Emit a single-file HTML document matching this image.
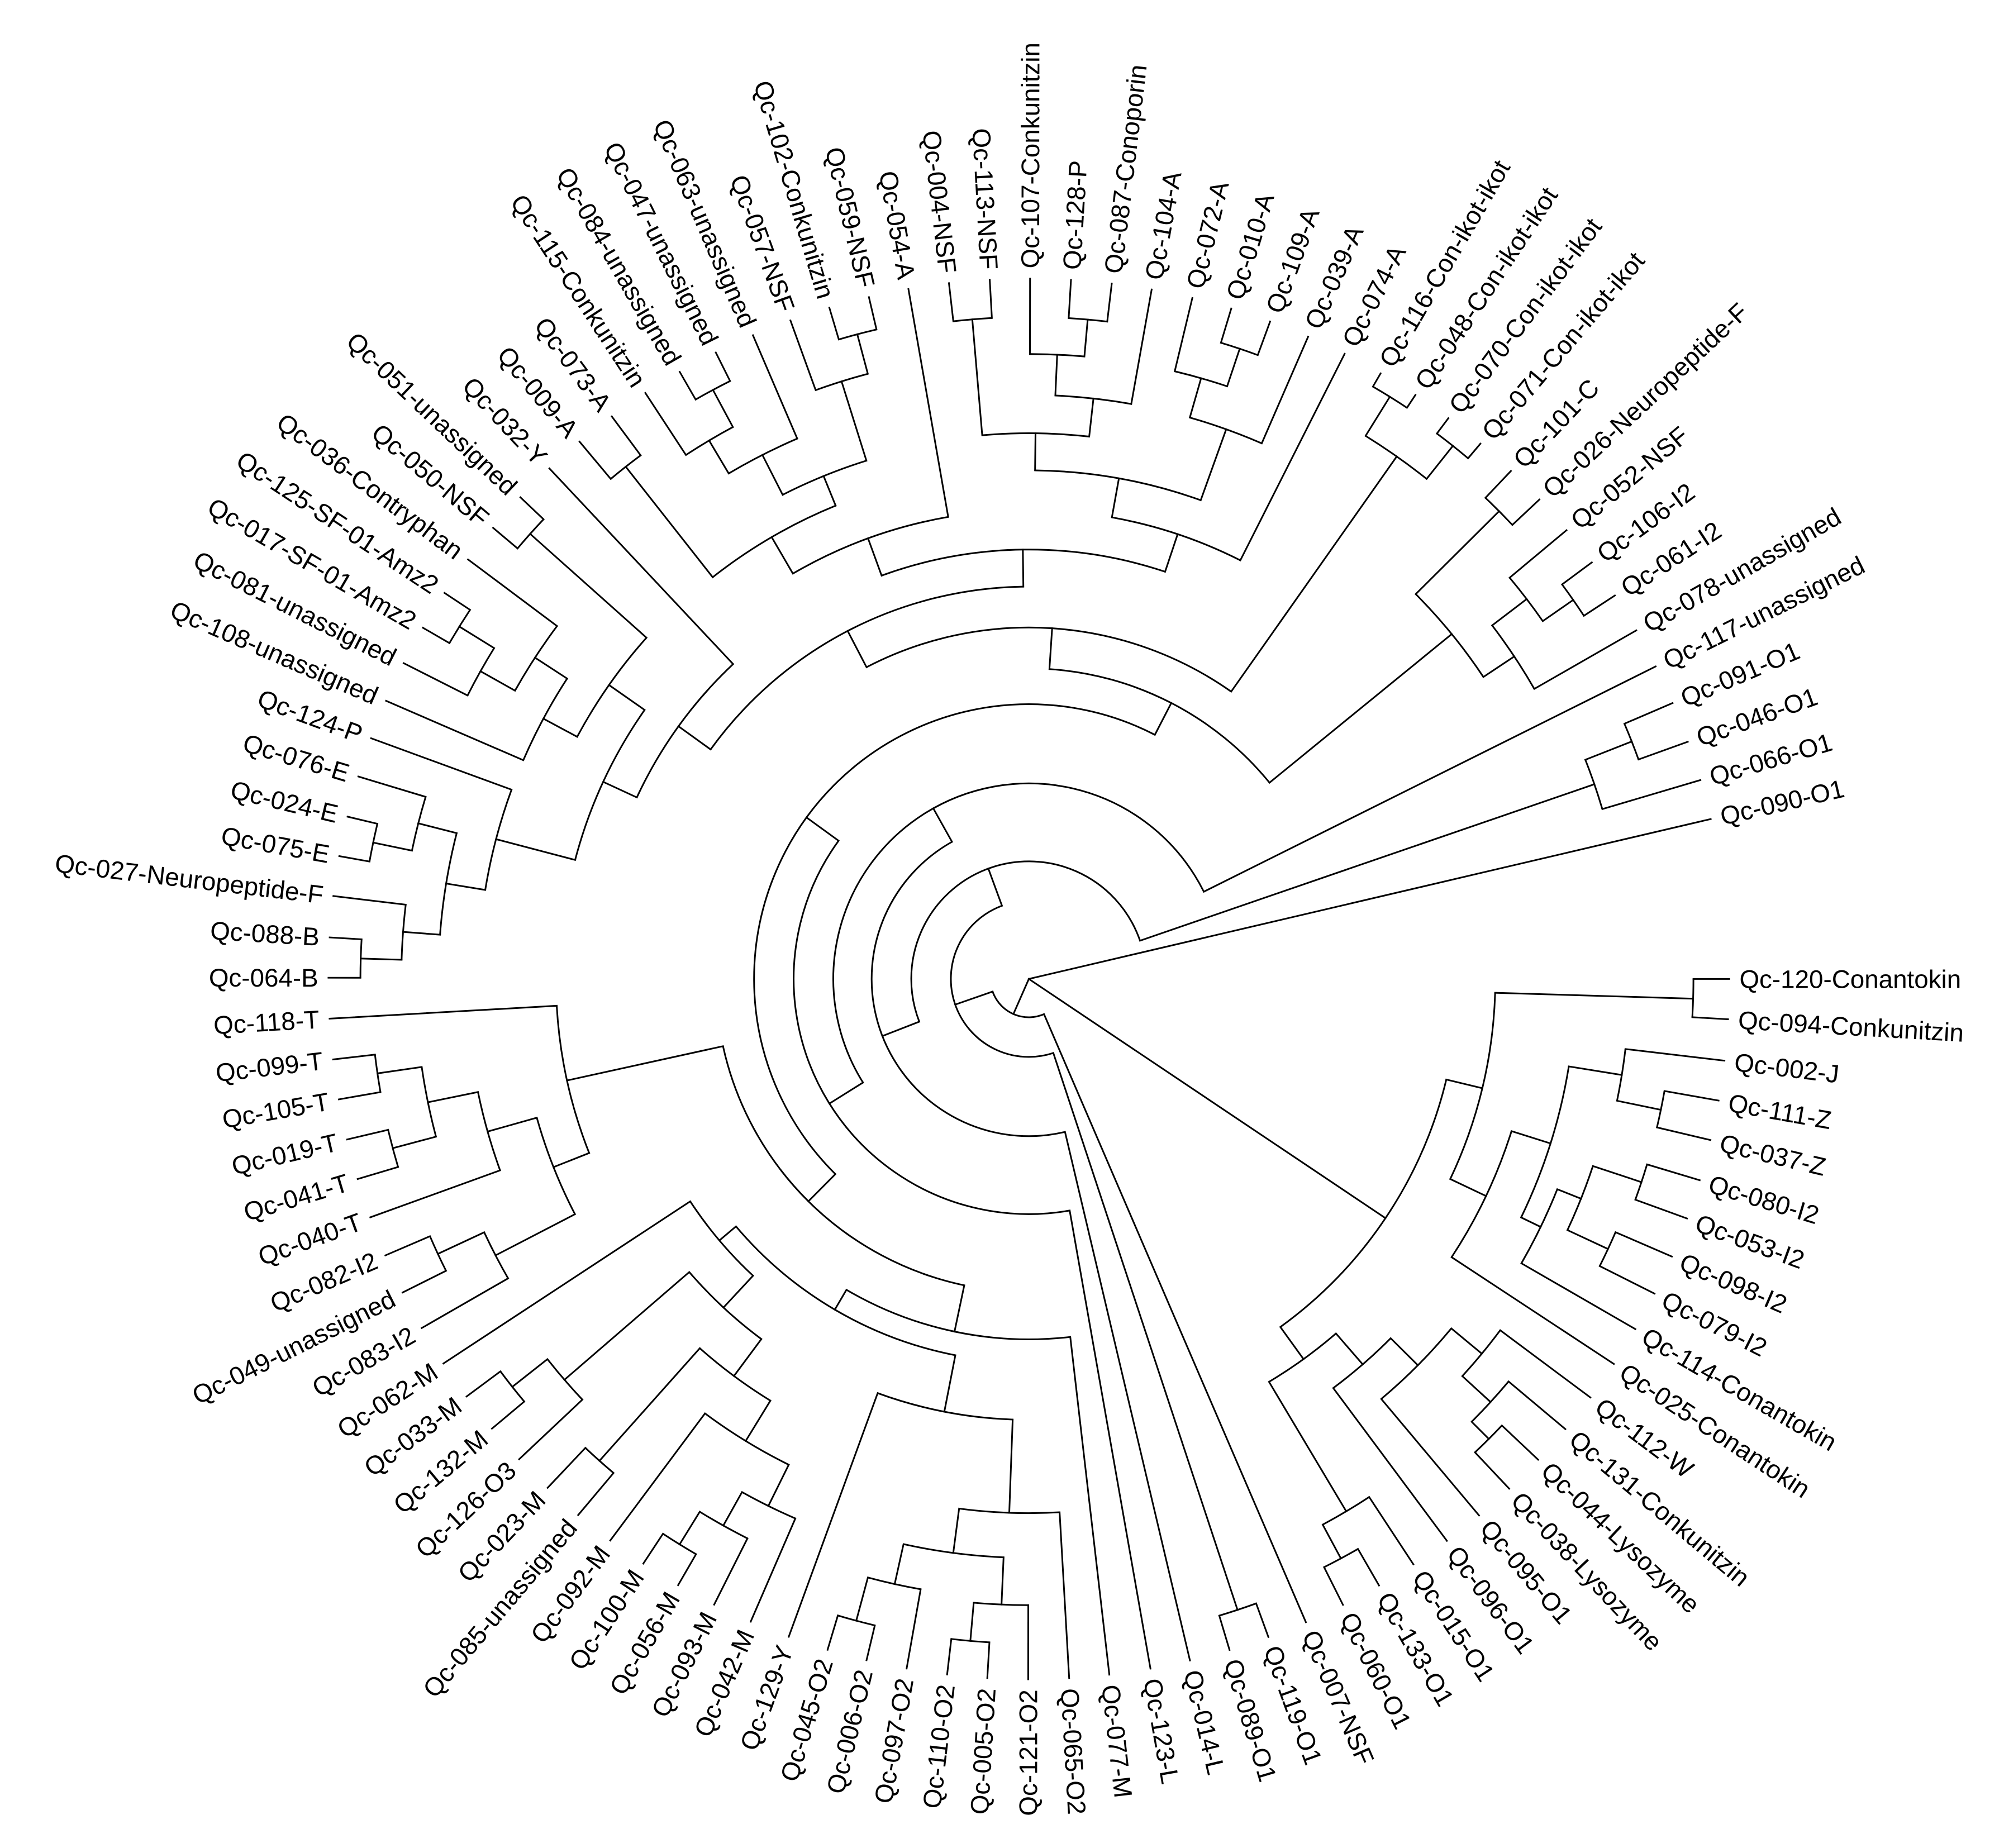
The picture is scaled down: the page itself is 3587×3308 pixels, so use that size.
<!DOCTYPE html>
<html><head><meta charset="utf-8"><style>
html,body{margin:0;padding:0;background:#fff}
svg{display:block}
.t text{font-family:"Liberation Sans",Arial,sans-serif;font-size:20px;fill:#000;stroke:none}
.f text{text-anchor:end}
</style></head><body>
<svg xmlns="http://www.w3.org/2000/svg" width="3587" height="3308" viewBox="0 0 1568 1446">
<rect width="1568" height="1446" fill="#fff"/>
<g transform="translate(805 766)">
<g fill="none" stroke="#000" stroke-width="1.3" stroke-linecap="square">
<!-- internal radial lines -->
<line x1="0" x2="336" transform="rotate(33.85)"/>
<line x1="336" x2="365" transform="rotate(13.55)"/>
<line x1="365" x2="520" transform="rotate(1.7)"/>
<line x1="365" x2="396" transform="rotate(25.4)"/>
<line x1="396" x2="428" transform="rotate(17.5)"/>
<line x1="428" x2="470" transform="rotate(9.2)"/>
<line x1="470" x2="505" transform="rotate(11.7)"/>
<line x1="428" x2="445" transform="rotate(25.85)"/>
<line x1="445" x2="465" transform="rotate(21.7)"/>
<line x1="465" x2="505" transform="rotate(18.35)"/>
<line x1="465" x2="500" transform="rotate(25)"/>
<line x1="336" x2="367" transform="rotate(54.15)"/>
<line x1="367" x2="399" transform="rotate(49.1)"/>
<line x1="399" x2="429" transform="rotate(44.8)"/>
<line x1="429" x2="460" transform="rotate(39.6)"/>
<line x1="460" x2="490" transform="rotate(42.5)"/>
<line x1="490" x2="509" transform="rotate(45)"/>
<line x1="367" x2="485" transform="rotate(59.2)"/>
<line x1="485" x2="515" transform="rotate(61.7)"/>
<line x1="0" x2="30" transform="rotate(113.75)"/>
<line x1="30" x2="61" transform="rotate(160.8)"/>
<line x1="61" x2="520" transform="rotate(71.7)"/>
<line x1="61" x2="92" transform="rotate(249.85)"/>
<line x1="92" x2="468" transform="rotate(341)"/>
<line x1="468" x2="507" transform="rotate(338.5)"/>
<line x1="92" x2="123" transform="rotate(158.7)"/>
<line x1="123" x2="153" transform="rotate(240.75)"/>
<line x1="153" x2="184" transform="rotate(148)"/>
<line x1="184" x2="215" transform="rotate(216)"/>
<line x1="215" x2="245" transform="rotate(134.75)"/>
<line x1="245" x2="282" transform="rotate(101.9)"/>
<line x1="282" x2="300" transform="rotate(120.4)"/>
<line x1="300" x2="345" transform="rotate(101.05)"/>
<line x1="345" x2="418" transform="rotate(92.1)"/>
<line x1="418" x2="453" transform="rotate(97.5)"/>
<line x1="453" x2="490" transform="rotate(92.5)"/>
<line x1="490" x2="520" transform="rotate(95.05)"/>
<line x1="453" x2="485" transform="rotate(102.5)"/>
<line x1="485" x2="520" transform="rotate(105.05)"/>
<line x1="300" x2="317" transform="rotate(139.8)"/>
<line x1="317" x2="351" transform="rotate(132.9)"/>
<line x1="351" x2="387" transform="rotate(126.6)"/>
<line x1="387" x2="424" transform="rotate(121.5)"/>
<line x1="424" x2="460" transform="rotate(116.3)"/>
<line x1="460" x2="490" transform="rotate(119.2)"/>
<line x1="490" x2="520" transform="rotate(121.7)"/>
<line x1="387" x2="505" transform="rotate(131.7)"/>
<line x1="351" x2="480" transform="rotate(139.2)"/>
<line x1="480" x2="515" transform="rotate(141.7)"/>
<line x1="245" x2="370" transform="rotate(167.6)"/>
<line x1="370" x2="400" transform="rotate(158.4)"/>
<line x1="400" x2="470" transform="rotate(152.6)"/>
<line x1="470" x2="510" transform="rotate(155.05)"/>
<line x1="400" x2="440" transform="rotate(164.25)"/>
<line x1="440" x2="480" transform="rotate(168.4)"/>
<line x1="480" x2="515" transform="rotate(165.1)"/>
<line x1="480" x2="515" transform="rotate(171.75)"/>
<line x1="215" x2="243" transform="rotate(297.3)"/>
<line x1="243" x2="275" transform="rotate(273.8)"/>
<line x1="275" x2="307" transform="rotate(242.5)"/>
<line x1="307" x2="338" transform="rotate(215.8)"/>
<line x1="338" x2="367" transform="rotate(204.85)"/>
<line x1="367" x2="431" transform="rotate(194.7)"/>
<line x1="431" x2="462" transform="rotate(189.3)"/>
<line x1="462" x2="491" transform="rotate(184.3)"/>
<line x1="491" x2="523" transform="rotate(181.75)"/>
<line x1="462" x2="493" transform="rotate(194.3)"/>
<line x1="493" x2="524" transform="rotate(191.75)"/>
<line x1="367" x2="401" transform="rotate(215)"/>
<line x1="401" x2="431" transform="rotate(208.2)"/>
<line x1="431" x2="461" transform="rotate(213.05)"/>
<line x1="461" x2="492" transform="rotate(209.3)"/>
<line x1="492" x2="524" transform="rotate(211.75)"/>
<line x1="401" x2="523" transform="rotate(221.75)"/>
<line x1="307" x2="336" transform="rotate(269.2)"/>
<line x1="336" x2="367" transform="rotate(249.95)"/>
<line x1="367" x2="400" transform="rotate(239.8)"/>
<line x1="400" x2="510" transform="rotate(231.8)"/>
<line x1="400" x2="425" transform="rotate(247.8)"/>
<line x1="425" x2="460" transform="rotate(243.05)"/>
<line x1="460" x2="490" transform="rotate(239.3)"/>
<line x1="490" x2="523" transform="rotate(241.8)"/>
<line x1="425" x2="490" transform="rotate(252.6)"/>
<line x1="490" x2="522" transform="rotate(255.1)"/>
<line x1="336" x2="367" transform="rotate(288.5)"/>
<line x1="367" x2="398" transform="rotate(280.2)"/>
<line x1="398" x2="427" transform="rotate(270.7)"/>
<line x1="427" x2="518" transform="rotate(265.1)"/>
<line x1="427" x2="457" transform="rotate(276.35)"/>
<line x1="457" x2="489" transform="rotate(272.6)"/>
<line x1="489" x2="518" transform="rotate(275.1)"/>
<line x1="398" x2="457" transform="rotate(289.75)"/>
<line x1="457" x2="489" transform="rotate(286)"/>
<line x1="489" x2="520" transform="rotate(288.5)"/>
<line x1="275" x2="500" transform="rotate(305.15)"/>
<line x1="500" x2="536" transform="rotate(301.8)"/>
<line x1="500" x2="533" transform="rotate(308.5)"/>
<line x1="243" x2="427" transform="rotate(320.8)"/>
<line x1="427" x2="519" transform="rotate(315.15)"/>
<line x1="427" x2="456" transform="rotate(326.4)"/>
<line x1="456" x2="490" transform="rotate(322.65)"/>
<line x1="490" x2="519" transform="rotate(325.15)"/>
<!-- leaf lines -->
<line x1="520" x2="548" transform="rotate(0)"/>
<line x1="520" x2="548" transform="rotate(3.3)"/>
<line x1="470" x2="548" transform="rotate(6.7)"/>
<line x1="505" x2="548" transform="rotate(10)"/>
<line x1="505" x2="548" transform="rotate(13.3)"/>
<line x1="505" x2="548" transform="rotate(16.7)"/>
<line x1="505" x2="548" transform="rotate(20)"/>
<line x1="500" x2="548" transform="rotate(23.35)"/>
<line x1="500" x2="548" transform="rotate(26.7)"/>
<line x1="445" x2="548" transform="rotate(30)"/>
<line x1="396" x2="548" transform="rotate(33.35)"/>
<line x1="460" x2="548" transform="rotate(36.7)"/>
<line x1="490" x2="548" transform="rotate(40)"/>
<line x1="509" x2="548" transform="rotate(43.35)"/>
<line x1="509" x2="548" transform="rotate(46.7)"/>
<line x1="429" x2="548" transform="rotate(50)"/>
<line x1="399" x2="548" transform="rotate(53.35)"/>
<line x1="485" x2="548" transform="rotate(56.7)"/>
<line x1="515" x2="548" transform="rotate(60)"/>
<line x1="515" x2="548" transform="rotate(63.35)"/>
<line x1="30" x2="548" transform="rotate(66.7)"/>
<line x1="520" x2="548" transform="rotate(70)"/>
<line x1="520" x2="548" transform="rotate(73.35)"/>
<line x1="123" x2="548" transform="rotate(76.7)"/>
<line x1="184" x2="548" transform="rotate(80)"/>
<line x1="282" x2="548" transform="rotate(83.4)"/>
<line x1="418" x2="548" transform="rotate(86.7)"/>
<line x1="490" x2="548" transform="rotate(90.05)"/>
<line x1="520" x2="548" transform="rotate(93.4)"/>
<line x1="520" x2="548" transform="rotate(96.7)"/>
<line x1="485" x2="548" transform="rotate(100.05)"/>
<line x1="520" x2="548" transform="rotate(103.4)"/>
<line x1="520" x2="548" transform="rotate(106.7)"/>
<line x1="345" x2="548" transform="rotate(110.05)"/>
<line x1="460" x2="548" transform="rotate(113.4)"/>
<line x1="490" x2="548" transform="rotate(116.7)"/>
<line x1="520" x2="548" transform="rotate(120.05)"/>
<line x1="520" x2="548" transform="rotate(123.4)"/>
<line x1="424" x2="548" transform="rotate(126.7)"/>
<line x1="505" x2="548" transform="rotate(130.05)"/>
<line x1="505" x2="548" transform="rotate(133.4)"/>
<line x1="480" x2="548" transform="rotate(136.7)"/>
<line x1="515" x2="548" transform="rotate(140.05)"/>
<line x1="515" x2="548" transform="rotate(143.4)"/>
<line x1="317" x2="548" transform="rotate(146.7)"/>
<line x1="470" x2="548" transform="rotate(150.1)"/>
<line x1="510" x2="548" transform="rotate(153.4)"/>
<line x1="510" x2="548" transform="rotate(156.75)"/>
<line x1="440" x2="548" transform="rotate(160.1)"/>
<line x1="515" x2="548" transform="rotate(163.4)"/>
<line x1="515" x2="548" transform="rotate(166.75)"/>
<line x1="515" x2="548" transform="rotate(170.1)"/>
<line x1="515" x2="548" transform="rotate(173.4)"/>
<line x1="370" x2="548" transform="rotate(176.75)"/>
<line x1="523" x2="548" transform="rotate(180.1)"/>
<line x1="523" x2="548" transform="rotate(183.4)"/>
<line x1="491" x2="548" transform="rotate(186.8)"/>
<line x1="524" x2="548" transform="rotate(190.1)"/>
<line x1="524" x2="548" transform="rotate(193.4)"/>
<line x1="493" x2="548" transform="rotate(196.8)"/>
<line x1="431" x2="548" transform="rotate(200.1)"/>
<line x1="431" x2="548" transform="rotate(203.4)"/>
<line x1="492" x2="548" transform="rotate(206.8)"/>
<line x1="524" x2="548" transform="rotate(210.1)"/>
<line x1="524" x2="548" transform="rotate(213.45)"/>
<line x1="461" x2="548" transform="rotate(216.8)"/>
<line x1="523" x2="548" transform="rotate(220.1)"/>
<line x1="523" x2="548" transform="rotate(223.45)"/>
<line x1="338" x2="548" transform="rotate(226.8)"/>
<line x1="510" x2="548" transform="rotate(230.1)"/>
<line x1="510" x2="548" transform="rotate(233.45)"/>
<line x1="490" x2="548" transform="rotate(236.8)"/>
<line x1="523" x2="548" transform="rotate(240.1)"/>
<line x1="523" x2="548" transform="rotate(243.45)"/>
<line x1="460" x2="548" transform="rotate(246.8)"/>
<line x1="490" x2="548" transform="rotate(250.1)"/>
<line x1="522" x2="548" transform="rotate(253.45)"/>
<line x1="522" x2="548" transform="rotate(256.8)"/>
<line x1="367" x2="548" transform="rotate(260.1)"/>
<line x1="518" x2="548" transform="rotate(263.45)"/>
<line x1="518" x2="548" transform="rotate(266.8)"/>
<line x1="489" x2="548" transform="rotate(270.1)"/>
<line x1="518" x2="548" transform="rotate(273.45)"/>
<line x1="518" x2="548" transform="rotate(276.8)"/>
<line x1="457" x2="548" transform="rotate(280.1)"/>
<line x1="489" x2="548" transform="rotate(283.5)"/>
<line x1="520" x2="548" transform="rotate(286.8)"/>
<line x1="520" x2="548" transform="rotate(290.15)"/>
<line x1="457" x2="548" transform="rotate(293.5)"/>
<line x1="367" x2="548" transform="rotate(296.8)"/>
<line x1="536" x2="548" transform="rotate(300.15)"/>
<line x1="536" x2="548" transform="rotate(303.5)"/>
<line x1="533" x2="548" transform="rotate(306.8)"/>
<line x1="533" x2="548" transform="rotate(310.15)"/>
<line x1="519" x2="548" transform="rotate(313.5)"/>
<line x1="519" x2="548" transform="rotate(316.8)"/>
<line x1="490" x2="548" transform="rotate(320.15)"/>
<line x1="519" x2="548" transform="rotate(323.5)"/>
<line x1="519" x2="548" transform="rotate(326.8)"/>
<line x1="456" x2="548" transform="rotate(330.15)"/>
<line x1="153" x2="548" transform="rotate(333.5)"/>
<line x1="507" x2="548" transform="rotate(336.8)"/>
<line x1="507" x2="548" transform="rotate(340.2)"/>
<line x1="468" x2="548" transform="rotate(343.5)"/>
<line x1="0" x2="548" transform="rotate(346.8)"/>
</g>
<g fill="none" stroke="#000" stroke-width="1.3">
<!-- arcs -->
<circle r="336" pathLength="360" stroke-dasharray="40.6 999" transform="rotate(13.55)"/>
<circle r="365" pathLength="360" stroke-dasharray="23.7 999" transform="rotate(1.7)"/>
<circle r="520" pathLength="360" stroke-dasharray="3.3 999" transform="rotate(0)"/>
<circle r="396" pathLength="360" stroke-dasharray="15.85 999" transform="rotate(17.5)"/>
<circle r="428" pathLength="360" stroke-dasharray="16.65 999" transform="rotate(9.2)"/>
<circle r="470" pathLength="360" stroke-dasharray="5 999" transform="rotate(6.7)"/>
<circle r="505" pathLength="360" stroke-dasharray="3.3 999" transform="rotate(10)"/>
<circle r="445" pathLength="360" stroke-dasharray="8.3 999" transform="rotate(21.7)"/>
<circle r="465" pathLength="360" stroke-dasharray="6.65 999" transform="rotate(18.35)"/>
<circle r="505" pathLength="360" stroke-dasharray="3.3 999" transform="rotate(16.7)"/>
<circle r="500" pathLength="360" stroke-dasharray="3.35 999" transform="rotate(23.35)"/>
<circle r="367" pathLength="360" stroke-dasharray="10.1 999" transform="rotate(49.1)"/>
<circle r="399" pathLength="360" stroke-dasharray="8.55 999" transform="rotate(44.8)"/>
<circle r="429" pathLength="360" stroke-dasharray="10.4 999" transform="rotate(39.6)"/>
<circle r="460" pathLength="360" stroke-dasharray="5.8 999" transform="rotate(36.7)"/>
<circle r="490" pathLength="360" stroke-dasharray="5 999" transform="rotate(40)"/>
<circle r="509" pathLength="360" stroke-dasharray="3.35 999" transform="rotate(43.35)"/>
<circle r="485" pathLength="360" stroke-dasharray="5 999" transform="rotate(56.7)"/>
<circle r="515" pathLength="360" stroke-dasharray="3.35 999" transform="rotate(60)"/>
<circle r="30" pathLength="360" stroke-dasharray="94.1 999" transform="rotate(66.7)"/>
<circle r="61" pathLength="360" stroke-dasharray="178.15 999" transform="rotate(71.7)"/>
<circle r="520" pathLength="360" stroke-dasharray="3.35 999" transform="rotate(70)"/>
<circle r="92" pathLength="360" stroke-dasharray="182.3 999" transform="rotate(158.7)"/>
<circle r="468" pathLength="360" stroke-dasharray="5 999" transform="rotate(338.5)"/>
<circle r="507" pathLength="360" stroke-dasharray="3.4 999" transform="rotate(336.8)"/>
<circle r="123" pathLength="360" stroke-dasharray="164.05 999" transform="rotate(76.7)"/>
<circle r="153" pathLength="360" stroke-dasharray="185.5 999" transform="rotate(148)"/>
<circle r="184" pathLength="360" stroke-dasharray="136 999" transform="rotate(80)"/>
<circle r="215" pathLength="360" stroke-dasharray="162.55 999" transform="rotate(134.75)"/>
<circle r="245" pathLength="360" stroke-dasharray="65.7 999" transform="rotate(101.9)"/>
<circle r="282" pathLength="360" stroke-dasharray="37 999" transform="rotate(83.4)"/>
<circle r="300" pathLength="360" stroke-dasharray="38.75 999" transform="rotate(101.05)"/>
<circle r="345" pathLength="360" stroke-dasharray="17.95 999" transform="rotate(92.1)"/>
<circle r="418" pathLength="360" stroke-dasharray="10.8 999" transform="rotate(86.7)"/>
<circle r="453" pathLength="360" stroke-dasharray="10 999" transform="rotate(92.5)"/>
<circle r="490" pathLength="360" stroke-dasharray="5.05 999" transform="rotate(90)"/>
<circle r="520" pathLength="360" stroke-dasharray="3.3 999" transform="rotate(93.4)"/>
<circle r="485" pathLength="360" stroke-dasharray="5.05 999" transform="rotate(100)"/>
<circle r="520" pathLength="360" stroke-dasharray="3.3 999" transform="rotate(103.4)"/>
<circle r="317" pathLength="360" stroke-dasharray="13.8 999" transform="rotate(132.9)"/>
<circle r="351" pathLength="360" stroke-dasharray="12.6 999" transform="rotate(126.6)"/>
<circle r="387" pathLength="360" stroke-dasharray="10.2 999" transform="rotate(121.5)"/>
<circle r="424" pathLength="360" stroke-dasharray="10.4 999" transform="rotate(116.3)"/>
<circle r="460" pathLength="360" stroke-dasharray="5.8 999" transform="rotate(113.4)"/>
<circle r="490" pathLength="360" stroke-dasharray="5 999" transform="rotate(116.7)"/>
<circle r="520" pathLength="360" stroke-dasharray="3.35 999" transform="rotate(120.05)"/>
<circle r="505" pathLength="360" stroke-dasharray="3.35 999" transform="rotate(130.05)"/>
<circle r="480" pathLength="360" stroke-dasharray="5 999" transform="rotate(136.7)"/>
<circle r="515" pathLength="360" stroke-dasharray="3.35 999" transform="rotate(140.05)"/>
<circle r="370" pathLength="360" stroke-dasharray="18.35 999" transform="rotate(158.4)"/>
<circle r="400" pathLength="360" stroke-dasharray="11.65 999" transform="rotate(152.6)"/>
<circle r="470" pathLength="360" stroke-dasharray="4.95 999" transform="rotate(150.1)"/>
<circle r="510" pathLength="360" stroke-dasharray="3.35 999" transform="rotate(153.4)"/>
<circle r="440" pathLength="360" stroke-dasharray="8.3 999" transform="rotate(160.1)"/>
<circle r="480" pathLength="360" stroke-dasharray="6.65 999" transform="rotate(165.1)"/>
<circle r="515" pathLength="360" stroke-dasharray="3.35 999" transform="rotate(163.4)"/>
<circle r="515" pathLength="360" stroke-dasharray="3.3 999" transform="rotate(170.1)"/>
<circle r="243" pathLength="360" stroke-dasharray="47 999" transform="rotate(273.8)"/>
<circle r="275" pathLength="360" stroke-dasharray="62.65 999" transform="rotate(242.5)"/>
<circle r="307" pathLength="360" stroke-dasharray="53.4 999" transform="rotate(215.8)"/>
<circle r="338" pathLength="360" stroke-dasharray="21.95 999" transform="rotate(204.85)"/>
<circle r="367" pathLength="360" stroke-dasharray="20.3 999" transform="rotate(194.7)"/>
<circle r="431" pathLength="360" stroke-dasharray="10.8 999" transform="rotate(189.3)"/>
<circle r="462" pathLength="360" stroke-dasharray="10 999" transform="rotate(184.3)"/>
<circle r="491" pathLength="360" stroke-dasharray="5.05 999" transform="rotate(181.75)"/>
<circle r="523" pathLength="360" stroke-dasharray="3.3 999" transform="rotate(180.1)"/>
<circle r="493" pathLength="360" stroke-dasharray="5.05 999" transform="rotate(191.75)"/>
<circle r="524" pathLength="360" stroke-dasharray="3.3 999" transform="rotate(190.1)"/>
<circle r="401" pathLength="360" stroke-dasharray="13.55 999" transform="rotate(208.2)"/>
<circle r="431" pathLength="360" stroke-dasharray="9.65 999" transform="rotate(203.4)"/>
<circle r="461" pathLength="360" stroke-dasharray="7.5 999" transform="rotate(209.3)"/>
<circle r="492" pathLength="360" stroke-dasharray="4.95 999" transform="rotate(206.8)"/>
<circle r="524" pathLength="360" stroke-dasharray="3.35 999" transform="rotate(210.1)"/>
<circle r="523" pathLength="360" stroke-dasharray="3.35 999" transform="rotate(220.1)"/>
<circle r="336" pathLength="360" stroke-dasharray="38.55 999" transform="rotate(249.95)"/>
<circle r="367" pathLength="360" stroke-dasharray="20.3 999" transform="rotate(239.8)"/>
<circle r="400" pathLength="360" stroke-dasharray="16 999" transform="rotate(231.8)"/>
<circle r="510" pathLength="360" stroke-dasharray="3.35 999" transform="rotate(230.1)"/>
<circle r="425" pathLength="360" stroke-dasharray="9.55 999" transform="rotate(243.05)"/>
<circle r="460" pathLength="360" stroke-dasharray="7.5 999" transform="rotate(239.3)"/>
<circle r="490" pathLength="360" stroke-dasharray="5 999" transform="rotate(236.8)"/>
<circle r="523" pathLength="360" stroke-dasharray="3.35 999" transform="rotate(240.1)"/>
<circle r="490" pathLength="360" stroke-dasharray="5 999" transform="rotate(250.1)"/>
<circle r="522" pathLength="360" stroke-dasharray="3.35 999" transform="rotate(253.45)"/>
<circle r="367" pathLength="360" stroke-dasharray="16.6 999" transform="rotate(280.2)"/>
<circle r="398" pathLength="360" stroke-dasharray="19.05 999" transform="rotate(270.7)"/>
<circle r="427" pathLength="360" stroke-dasharray="11.25 999" transform="rotate(265.1)"/>
<circle r="518" pathLength="360" stroke-dasharray="3.35 999" transform="rotate(263.45)"/>
<circle r="457" pathLength="360" stroke-dasharray="7.5 999" transform="rotate(272.6)"/>
<circle r="489" pathLength="360" stroke-dasharray="5 999" transform="rotate(270.1)"/>
<circle r="518" pathLength="360" stroke-dasharray="3.35 999" transform="rotate(273.45)"/>
<circle r="457" pathLength="360" stroke-dasharray="7.5 999" transform="rotate(286)"/>
<circle r="489" pathLength="360" stroke-dasharray="5 999" transform="rotate(283.5)"/>
<circle r="520" pathLength="360" stroke-dasharray="3.35 999" transform="rotate(286.8)"/>
<circle r="500" pathLength="360" stroke-dasharray="6.7 999" transform="rotate(301.8)"/>
<circle r="536" pathLength="360" stroke-dasharray="3.35 999" transform="rotate(300.15)"/>
<circle r="533" pathLength="360" stroke-dasharray="3.35 999" transform="rotate(306.8)"/>
<circle r="427" pathLength="360" stroke-dasharray="11.25 999" transform="rotate(315.15)"/>
<circle r="519" pathLength="360" stroke-dasharray="3.3 999" transform="rotate(313.5)"/>
<circle r="456" pathLength="360" stroke-dasharray="7.5 999" transform="rotate(322.65)"/>
<circle r="490" pathLength="360" stroke-dasharray="5 999" transform="rotate(320.15)"/>
<circle r="519" pathLength="360" stroke-dasharray="3.3 999" transform="rotate(323.5)"/>
</g>
<g class="t">
<text x="556" dy="7" transform="rotate(0)">Qc-120-Conantokin</text>
<text x="556" dy="7" transform="rotate(3.3)">Qc-094-Conkunitzin</text>
<text x="556" dy="7" transform="rotate(6.7)">Qc-002-J</text>
<text x="556" dy="7" transform="rotate(10)">Qc-111-Z</text>
<text x="556" dy="7" transform="rotate(13.3)">Qc-037-Z</text>
<text x="556" dy="7" transform="rotate(16.7)">Qc-080-I2</text>
<text x="556" dy="7" transform="rotate(20)">Qc-053-I2</text>
<text x="556" dy="7" transform="rotate(23.35)">Qc-098-I2</text>
<text x="556" dy="7" transform="rotate(26.7)">Qc-079-I2</text>
<text x="556" dy="7" transform="rotate(30)">Qc-114-Conantokin</text>
<text x="556" dy="7" transform="rotate(33.35)">Qc-025-Conantokin</text>
<text x="556" dy="7" transform="rotate(36.7)">Qc-112-W</text>
<text x="556" dy="7" transform="rotate(40)">Qc-131-Conkunitzin</text>
<text x="556" dy="7" transform="rotate(43.35)">Qc-044-Lysozyme</text>
<text x="556" dy="7" transform="rotate(46.7)">Qc-038-Lysozyme</text>
<text x="556" dy="7" transform="rotate(50)">Qc-095-O1</text>
<text x="556" dy="7" transform="rotate(53.35)">Qc-096-O1</text>
<text x="556" dy="7" transform="rotate(56.7)">Qc-015-O1</text>
<text x="556" dy="7" transform="rotate(60)">Qc-133-O1</text>
<text x="556" dy="7" transform="rotate(63.35)">Qc-060-O1</text>
<text x="556" dy="7" transform="rotate(66.7)">Qc-007-NSF</text>
<text x="556" dy="7" transform="rotate(70)">Qc-119-O1</text>
<text x="556" dy="7" transform="rotate(73.35)">Qc-089-O1</text>
<text x="556" dy="7" transform="rotate(76.7)">Qc-014-L</text>
<text x="556" dy="7" transform="rotate(80)">Qc-123-L</text>
<text x="556" dy="7" transform="rotate(83.4)">Qc-077-M</text>
<text x="556" dy="7" transform="rotate(86.7)">Qc-065-O2</text>
<text x="556" dy="7" transform="rotate(270.1)">Qc-107-Conkunitzin</text>
<text x="556" dy="7" transform="rotate(273.45)">Qc-128-P</text>
<text x="556" dy="7" transform="rotate(276.8)">Qc-087-Conoporin</text>
<text x="556" dy="7" transform="rotate(280.1)">Qc-104-A</text>
<text x="556" dy="7" transform="rotate(283.5)">Qc-072-A</text>
<text x="556" dy="7" transform="rotate(286.8)">Qc-010-A</text>
<text x="556" dy="7" transform="rotate(290.15)">Qc-109-A</text>
<text x="556" dy="7" transform="rotate(293.5)">Qc-039-A</text>
<text x="556" dy="7" transform="rotate(296.8)">Qc-074-A</text>
<text x="556" dy="7" transform="rotate(300.15)">Qc-116-Con-ikot-ikot</text>
<text x="556" dy="7" transform="rotate(303.5)">Qc-048-Con-ikot-ikot</text>
<text x="556" dy="7" transform="rotate(306.8)">Qc-070-Con-ikot-ikot</text>
<text x="556" dy="7" transform="rotate(310.15)">Qc-071-Con-ikot-ikot</text>
<text x="556" dy="7" transform="rotate(313.5)">Qc-101-C</text>
<text x="556" dy="7" transform="rotate(316.8)">Qc-026-Neuropeptide-F</text>
<text x="556" dy="7" transform="rotate(320.15)">Qc-052-NSF</text>
<text x="556" dy="7" transform="rotate(323.5)">Qc-106-I2</text>
<text x="556" dy="7" transform="rotate(326.8)">Qc-061-I2</text>
<text x="556" dy="7" transform="rotate(330.15)">Qc-078-unassigned</text>
<text x="556" dy="7" transform="rotate(333.5)">Qc-117-unassigned</text>
<text x="556" dy="7" transform="rotate(336.8)">Qc-091-O1</text>
<text x="556" dy="7" transform="rotate(340.2)">Qc-046-O1</text>
<text x="556" dy="7" transform="rotate(343.5)">Qc-066-O1</text>
<text x="556" dy="7" transform="rotate(346.8)">Qc-090-O1</text>
</g>
<g class="t f">
<text x="-556" dy="7" transform="rotate(-89.95)">Qc-121-O2</text>
<text x="-556" dy="7" transform="rotate(-86.6)">Qc-005-O2</text>
<text x="-556" dy="7" transform="rotate(-83.3)">Qc-110-O2</text>
<text x="-556" dy="7" transform="rotate(-79.95)">Qc-097-O2</text>
<text x="-556" dy="7" transform="rotate(-76.6)">Qc-006-O2</text>
<text x="-556" dy="7" transform="rotate(-73.3)">Qc-045-O2</text>
<text x="-556" dy="7" transform="rotate(-69.95)">Qc-129-Y</text>
<text x="-556" dy="7" transform="rotate(-66.6)">Qc-042-M</text>
<text x="-556" dy="7" transform="rotate(-63.3)">Qc-093-M</text>
<text x="-556" dy="7" transform="rotate(-59.95)">Qc-056-M</text>
<text x="-556" dy="7" transform="rotate(-56.6)">Qc-100-M</text>
<text x="-556" dy="7" transform="rotate(-53.3)">Qc-092-M</text>
<text x="-556" dy="7" transform="rotate(-49.95)">Qc-085-unassigned</text>
<text x="-556" dy="7" transform="rotate(-46.6)">Qc-023-M</text>
<text x="-556" dy="7" transform="rotate(-43.3)">Qc-126-O3</text>
<text x="-556" dy="7" transform="rotate(-39.95)">Qc-132-M</text>
<text x="-556" dy="7" transform="rotate(-36.6)">Qc-033-M</text>
<text x="-556" dy="7" transform="rotate(-33.3)">Qc-062-M</text>
<text x="-556" dy="7" transform="rotate(-29.9)">Qc-083-I2</text>
<text x="-556" dy="7" transform="rotate(-26.6)">Qc-049-unassigned</text>
<text x="-556" dy="7" transform="rotate(-23.25)">Qc-082-I2</text>
<text x="-556" dy="7" transform="rotate(-19.9)">Qc-040-T</text>
<text x="-556" dy="7" transform="rotate(-16.6)">Qc-041-T</text>
<text x="-556" dy="7" transform="rotate(-13.25)">Qc-019-T</text>
<text x="-556" dy="7" transform="rotate(-9.9)">Qc-105-T</text>
<text x="-556" dy="7" transform="rotate(-6.6)">Qc-099-T</text>
<text x="-556" dy="7" transform="rotate(-3.25)">Qc-118-T</text>
<text x="-556" dy="7" transform="rotate(0.1)">Qc-064-B</text>
<text x="-556" dy="7" transform="rotate(3.4)">Qc-088-B</text>
<text x="-556" dy="7" transform="rotate(6.8)">Qc-027-Neuropeptide-F</text>
<text x="-556" dy="7" transform="rotate(10.1)">Qc-075-E</text>
<text x="-556" dy="7" transform="rotate(13.4)">Qc-024-E</text>
<text x="-556" dy="7" transform="rotate(16.8)">Qc-076-E</text>
<text x="-556" dy="7" transform="rotate(20.1)">Qc-124-P</text>
<text x="-556" dy="7" transform="rotate(23.4)">Qc-108-unassigned</text>
<text x="-556" dy="7" transform="rotate(26.8)">Qc-081-unassigned</text>
<text x="-556" dy="7" transform="rotate(30.1)">Qc-017-SF-01-Amz2</text>
<text x="-556" dy="7" transform="rotate(33.45)">Qc-125-SF-01-Amz2</text>
<text x="-556" dy="7" transform="rotate(36.8)">Qc-036-Contryphan</text>
<text x="-556" dy="7" transform="rotate(40.1)">Qc-050-NSF</text>
<text x="-556" dy="7" transform="rotate(43.45)">Qc-051-unassigned</text>
<text x="-556" dy="7" transform="rotate(46.8)">Qc-032-Y</text>
<text x="-556" dy="7" transform="rotate(50.1)">Qc-009-A</text>
<text x="-556" dy="7" transform="rotate(53.45)">Qc-073-A</text>
<text x="-556" dy="7" transform="rotate(56.8)">Qc-115-Conkunitzin</text>
<text x="-556" dy="7" transform="rotate(60.1)">Qc-084-unassigned</text>
<text x="-556" dy="7" transform="rotate(63.45)">Qc-047-unassigned</text>
<text x="-556" dy="7" transform="rotate(66.8)">Qc-063-unassigned</text>
<text x="-556" dy="7" transform="rotate(70.1)">Qc-057-NSF</text>
<text x="-556" dy="7" transform="rotate(73.45)">Qc-102-Conkunitzin</text>
<text x="-556" dy="7" transform="rotate(76.8)">Qc-059-NSF</text>
<text x="-556" dy="7" transform="rotate(80.1)">Qc-054-A</text>
<text x="-556" dy="7" transform="rotate(83.45)">Qc-004-NSF</text>
<text x="-556" dy="7" transform="rotate(86.8)">Qc-113-NSF</text>
</g>
</g>
</svg>
</body></html>
